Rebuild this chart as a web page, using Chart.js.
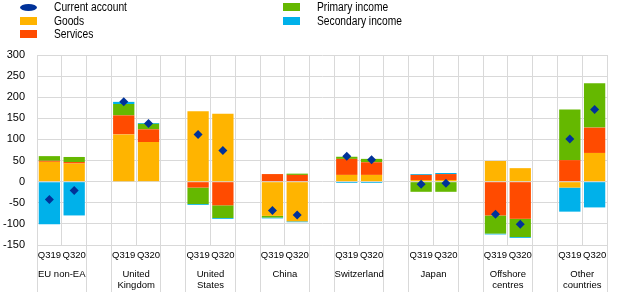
<!DOCTYPE html>
<html>
<head>
<meta charset="utf-8">
<script src="https://cdn.jsdelivr.net/npm/chart.js@4.4.0/dist/chart.umd.min.js"></script>
<style>
  body { margin: 0; background: #fff; }
  #caixa { position: relative; width: 620px; height: 292px; }
  #legenda { position: absolute; left: 0; top: 0; width: 620px; height: 45px; }
  .item { position: absolute; height: 14px; font-family: "Liberation Sans", Arial, sans-serif; font-size: 12.5px; line-height: 14px; color: #000; white-space: nowrap; }
  .marca { position: absolute; left: 0; }
  .texto { position: absolute; left: 34px; top: 0; transform: scaleX(0.82); transform-origin: left center; }
</style>
</head>
<body>
<div id="caixa">
  <canvas id="grafico" width="620" height="292"></canvas>
  <div id="legenda"></div>
</div>
<script>
// dados (bilhoes de euros), dois trimestres por regiao
const regioes = [['EU non-EA'], ['United', 'Kingdom'], ['United', 'States'], ['China'], ['Switzerland'], ['Japan'], ['Offshore', 'centres'], ['Other', 'countries']];
const trimestres = ['Q319', 'Q320'];

const goods     = [47, 43,   112, 94,   167, 161,  -81, -94,  16, 16,  4, 4,      49, 32,    -14, 68];
const services  = [2.5, 3.5, 45, 30,    -14, -56,  18, 16,   38, 30,  12, 14,    -80, -88,   51, 60];
const primary   = [11, 12,   27, 13,    -39, -30,  -4, 3,    5, 8,    -24, -24,  -43, -43,   120, 105];
const secondary = [-101, -80, 5, 2,     -2, -2,    -2, -2,   -3, -3,  2, 2.5,    -2, -2,     -57, -61];
const currentAccount = [-42, -21, 189, 138, 112, 74, -68, -79, 60, 52, -6, -4, -77, -101, 101, 171];

const cores = {
  ca: '#003299',
  goods: '#FFB400',
  services: '#FF4B00',
  primary: '#65B800',
  secondary: '#00B1EA'
};

// monta as 23 posicoes do eixo: Q319, Q320 e um espaco vazio entre regioes
function montarLabels() {
  var labels = [];
  regioes.forEach(function (r, i) {
    labels.push(trimestres[0], trimestres[1]);
    if (i < regioes.length - 1) labels.push('');
  });
  return labels;
}

function expandir(valores) {
  var saida = [];
  for (let i = 0; i < regioes.length; i++) {
    saida.push(valores[i * 2], valores[i * 2 + 1]);
    if (i < regioes.length - 1) saida.push(null);
  }
  return saida;
}

const centrosRegioes = regioes.map(function (r, i) { return i * 3 + 0.5; });

function criarBarra(label, valores, cor) {
  return {
    type: 'bar',
    label: label,
    data: expandir(valores),
    backgroundColor: cor,
    borderWidth: 0,
    barPercentage: 0.86,
    categoryPercentage: 1,
    order: 1
  };
}

const grade = '#d9d9d9';

new Chart(document.getElementById('grafico'), {
  data: {
    labels: montarLabels(),
    datasets: [
      {
        type: 'line',
        label: 'Current account',
        data: expandir(currentAccount),
        showLine: false,
        stack: 'ca',
        pointStyle: 'rectRot',
        pointRadius: 4.5,
        pointBackgroundColor: cores.ca,
        pointBorderColor: cores.ca,
        pointBorderWidth: 0,
        order: 0
      },
      criarBarra('Goods', goods, cores.goods),
      criarBarra('Services', services, cores.services),
      criarBarra('Primary income', primary, cores.primary),
      criarBarra('Secondary income', secondary, cores.secondary)
    ]
  },
  options: {
    responsive: false,
    animation: false,
    devicePixelRatio: 1,
    layout: { padding: { top: 55, right: 13, bottom: 0, left: 0 } },
    plugins: { legend: { display: false }, tooltip: { enabled: false } },
    scales: {
      x: {
        stacked: true,
        offset: true,
        grid: {
          offset: true,
          color: grade,
          drawTicks: true,
          tickLength: 47,
          tickColor: function (ctx) { return ctx.index % 3 === 1 ? 'rgba(0,0,0,0)' : grade; }
        },
        border: { color: grade },
        ticks: {
          autoSkip: false,
          maxRotation: 0,
          padding: -42.7,
          color: '#000',
          font: { family: '"Liberation Sans", Arial, sans-serif', size: 9.5 }
        },
        afterFit: function (s) { s.height = 19; }
      },
      x2: {
        type: 'linear',
        position: 'bottom',
        min: -0.5,
        max: 22.5,
        grid: { display: false },
        border: { display: false },
        afterBuildTicks: function (s) {
          s.ticks = centrosRegioes.map(function (v) { return { value: v }; });
        },
        ticks: {
          autoSkip: false,
          maxRotation: 0,
          padding: -3.5,
          color: '#000',
          font: { family: '"Liberation Sans", Arial, sans-serif', size: 9.5 },
          callback: function (valor, indice) { return regioes[indice]; }
        },
        afterFit: function (s) { s.height = 28; }
      },
      y: {
        stacked: true,
        min: -150,
        max: 300,
        grid: { color: grade, drawTicks: false },
        border: { color: grade },
        ticks: {
          stepSize: 50,
          padding: 12,
          color: '#000',
          font: { family: '"Liberation Sans", Arial, sans-serif', size: 11 }
        },
        afterFit: function (s) { s.width = 37; }
      }
    }
  }
});

// legenda em duas colunas, como no original
const itensLegenda = [
  { nome: 'Current account', cor: cores.ca, forma: 'elipse', col: 0, lin: 0 },
  { nome: 'Goods', cor: cores.goods, forma: 'ret', col: 0, lin: 1 },
  { nome: 'Services', cor: cores.services, forma: 'ret', col: 0, lin: 2 },
  { nome: 'Primary income', cor: cores.primary, forma: 'ret', col: 1, lin: 0 },
  { nome: 'Secondary income', cor: cores.secondary, forma: 'ret', col: 1, lin: 1 }
];
const colunasX = [20, 283];
const legenda = document.getElementById('legenda');
itensLegenda.forEach(function (it) {
  var div = document.createElement('div');
  div.className = 'item';
  div.style.left = colunasX[it.col] + 'px';
  div.style.top = (it.lin * 13.7) + 'px';
  var marca = document.createElement('span');
  marca.className = 'marca';
  marca.style.background = it.cor;
  marca.style.width = '17px';
  if (it.forma == 'elipse') {
    marca.style.height = '7px';
    marca.style.top = '3.5px';
    marca.style.borderRadius = '50%';
  } else {
    marca.style.height = '8px';
    marca.style.top = '3px';
  }
  var texto = document.createElement('span');
  texto.className = 'texto';
  texto.textContent = it.nome;
  div.appendChild(marca);
  div.appendChild(texto);
  legenda.appendChild(div);
});
</script>
</body>
</html>
